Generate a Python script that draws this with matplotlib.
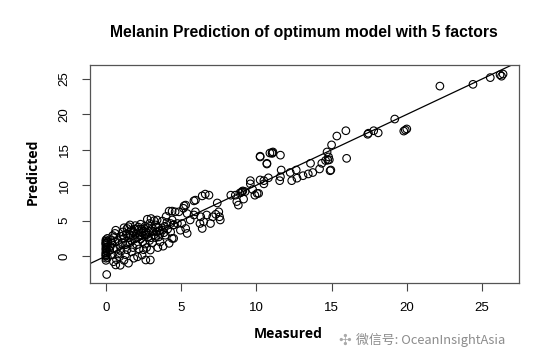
import numpy as np
import matplotlib.pyplot as plt

## Data (measured vs predicted melanin)
measured = [
    0.05, 0.0, 0.0, 0.0, 0.0, 0.0, 0.0, 0.0, 0.0, 0.0, 0.0, 0.0, 0.0, 0.0, 0.0, 0.0, 0.0,
    0.1, 0.1, 0.1, 0.1, 0.1,
    0.4, 0.5, 0.6, 0.65, 0.7, 0.8, 0.9, 0.95, 0.65, 0.5, 0.8, 1.0, 0.9, 0.4, 0.7,
    0.3, 0.35, 0.5, 0.6, 0.25, 0.45,
    1.1, 1.2, 1.3, 1.4, 1.5, 1.5, 1.6, 1.7, 1.8, 1.85, 1.9, 1.95, 1.2, 1.3, 1.4, 1.6,
    1.7, 1.8, 1.1, 1.9, 1.0, 1.2, 1.6, 1.75,
    1.15, 1.35, 1.55, 1.65, 1.85, 1.45,
    2.1, 2.4, 2.65, 2.95, 2.0, 2.1, 2.2, 2.3, 2.4, 2.5, 2.6, 2.7, 2.75, 2.8, 2.9, 3.0,
    2.2, 2.5, 2.6, 2.35, 2.45, 2.85, 2.15, 2.7, 2.55, 2.9, 2.05, 2.3, 2.95,
    2.25, 2.6, 2.8, 2.4, 2.65,
    3.1, 3.2, 3.3, 3.4, 3.4, 3.5, 3.6, 3.75, 3.75, 3.8, 3.95, 4.05, 4.2, 4.3, 4.4, 4.4,
    4.5, 4.5, 3.1, 3.3, 3.5, 3.6, 3.9, 4.1, 4.2, 3.2, 3.0, 3.45, 4.0, 4.3,
    3.15, 3.55, 3.85, 3.35,
    4.6, 4.85, 4.4, 5.4, 4.75, 5.05, 4.5, 5.3, 5.4, 4.95, 5.6, 5.85, 5.95, 5.3, 5.15,
    5.95, 6.4, 6.6, 6.85, 7.3, 7.5, 7.55, 7.6, 7.1, 6.95, 6.7, 6.3, 6.25, 6.4, 6.5,
    5.85, 5.2, 7.4, 8.3, 8.6, 8.7, 8.8,
    9.6, 9.6, 9.75, 9.9, 9.25, 9.05, 8.9, 10.15, 9.15, 9.0, 9.1, 10.05, 10.5, 10.25,
    10.7, 10.8, 10.5, 10.25, 10.25, 11.05, 11.05, 11.1, 11.6, 10.7, 10.9,
    11.55, 11.6, 11.65, 12.25, 12.65, 12.35, 12.7, 13.1, 13.45, 13.75, 14.2, 13.6,
    14.35, 14.7, 14.8, 14.75, 14.85, 14.6, 14.9, 14.95, 15.0, 15.35, 15.95, 16.0,
    17.4, 17.45, 17.8, 18.1, 19.2, 19.8, 19.9, 20.0,
    22.2, 24.4, 25.55, 26.2, 26.3, 26.4,
]
predicted = [
    -2.6, -0.3, 0.0, 0.2, 0.5, 0.8, 1.0, 1.2, 1.5, 1.7, 1.9, 2.1, 2.3, -0.6, 0.1, 0.4, 1.8,
    0.6, 1.3, 2.0, 2.5, -0.2,
    1.8, 2.6, 3.2, 3.65, 1.0, 0.3, -0.1, -1.3, -1.25, -0.8, 2.2, 2.8, 1.5, 0.2, -0.5,
    1.4, 2.2, 1.1, 2.0, 0.8, 2.9,
    3.4, 2.5, 1.6, 0.9, 4.15, -1.0, 3.0, 2.2, 1.2, -0.3, 3.8, 4.3, -0.6, 0.2, 3.9, 1.9,
    0.6, 2.9, 1.9, 2.4, 0.7, 4.0, 4.4, 3.5,
    2.9, 3.1, 2.6, 3.6, 3.3, 1.8,
    -0.1, 0.15, -0.55, -0.55, 3.2, 2.6, 3.8, 4.5, 2.9, 3.5, 1.7, 3.0, 5.2, 4.0, 2.2, 5.3,
    1.0, 0.9, 4.2, 3.3, 2.0, 3.5, 4.1, 1.2, 3.9, 4.6, 1.6, 2.4, 0.85,
    2.9, 3.0, 2.7, 3.8, 3.4,
    3.9, 3.0, 4.4, 5.1, 3.4, 2.7, 2.0, 4.95, 3.65, 1.4, 2.95, 4.75, 6.35, 3.4, 2.5, 5.1,
    4.4, 2.5, 1.9, 2.6, 4.0, 3.2, 4.2, 3.8, 1.8, 5.0, 2.6, 1.2, 5.6, 4.6,
    3.5, 3.6, 3.3, 4.1,
    6.25, 6.25, 6.35, 6.0, 4.6, 4.6, 4.4, 3.9, 3.2, 3.65, 5.1, 5.8, 6.25, 7.2, 6.75,
    7.9, 8.5, 8.75, 8.6, 5.9, 6.25, 5.55, 5.1, 5.55, 4.6, 5.8, 5.55, 4.6, 3.9, 4.85,
    7.8, 7.1, 7.5, 8.6, 8.6, 7.7, 7.2,
    10.65, 10.2, 9.4, 8.6, 9.1, 9.1, 8.9, 8.85, 8.05, 9.0, 9.2, 8.85, 10.2, 10.75,
    13.1, 11.05, 10.65, 14.1, 14.0, 14.6, 14.5, 14.7, 14.25, 13.0, 14.55,
    10.65, 11.2, 12.15, 11.8, 12.15, 10.65, 11.0, 11.35, 11.6, 11.8, 12.3, 13.1,
    13.1, 14.7, 14.0, 13.55, 13.6, 13.5, 12.05, 12.15, 15.7, 16.95, 17.7, 13.8,
    17.2, 17.35, 17.7, 17.4, 19.35, 17.65, 17.8, 17.95,
    24.0, 24.25, 25.2, 25.6, 25.4, 25.7,
]
line_intercept = 0.0
line_slope = 1.0

xticks = [0, 5, 10, 15, 20, 25]
yticks = [0, 5, 10, 15, 20, 25]

## Plot
fig = plt.figure(figsize=(5.54, 3.64), dpi=100)
ax = fig.add_axes([90 / 554, 1 - 283 / 364, 429 / 554, 218 / 364])

ax.scatter(measured, predicted, s=30, facecolors='none', edgecolors='black', linewidths=0.8)
ax.axline((0, line_intercept), slope=line_slope, color='black', linewidth=0.9)

ax.set_xlim(-1.06, 27.46)
ax.set_ylim(-3.8, 26.98)
ax.set_xticks(xticks)
ax.set_yticks(yticks)
ax.set_xticklabels([str(t) for t in xticks], family='Liberation Sans', fontsize=9.5)
ax.set_yticklabels([str(t) for t in yticks], family='Liberation Sans', fontsize=9.5,
                   rotation=90, va='center')
ax.tick_params(direction='out', length=6, width=0.8, color='#444444', pad=8)
for s in ax.spines.values():
    s.set_color('#555555')
    s.set_linewidth(0.9)

fig.text(304 / 554, 1 - 33 / 364, 'Melanin Prediction of optimum model with 5 factors',
         ha='center', va='center', family='Liberation Sans', fontweight='bold', fontsize=11.3)
fig.text(288 / 554, 1 - 334 / 364, 'Measured', ha='center', va='center',
         family='Open Sans', fontweight='bold', fontsize=10)
fig.text(33 / 554, 1 - 172 / 364, 'Predicted', ha='center', va='center', rotation=90,
         family='Open Sans', fontweight='bold', fontsize=10)

# watermark
fig.text(345 / 554, 1 - 340 / 364, '\u2723', ha='center', va='center', color='#aaaaaa',
         fontsize=11, family=['DejaVu Sans'])
fig.text(356 / 554, 1 - 340 / 364, '微信号: OceanInsightAsia', ha='left', va='center',
         color='#8c8c8c', fontsize=9.3, family=['Noto Sans CJK SC', 'DejaVu Sans'])

fig.savefig('out.png', dpi=100)
